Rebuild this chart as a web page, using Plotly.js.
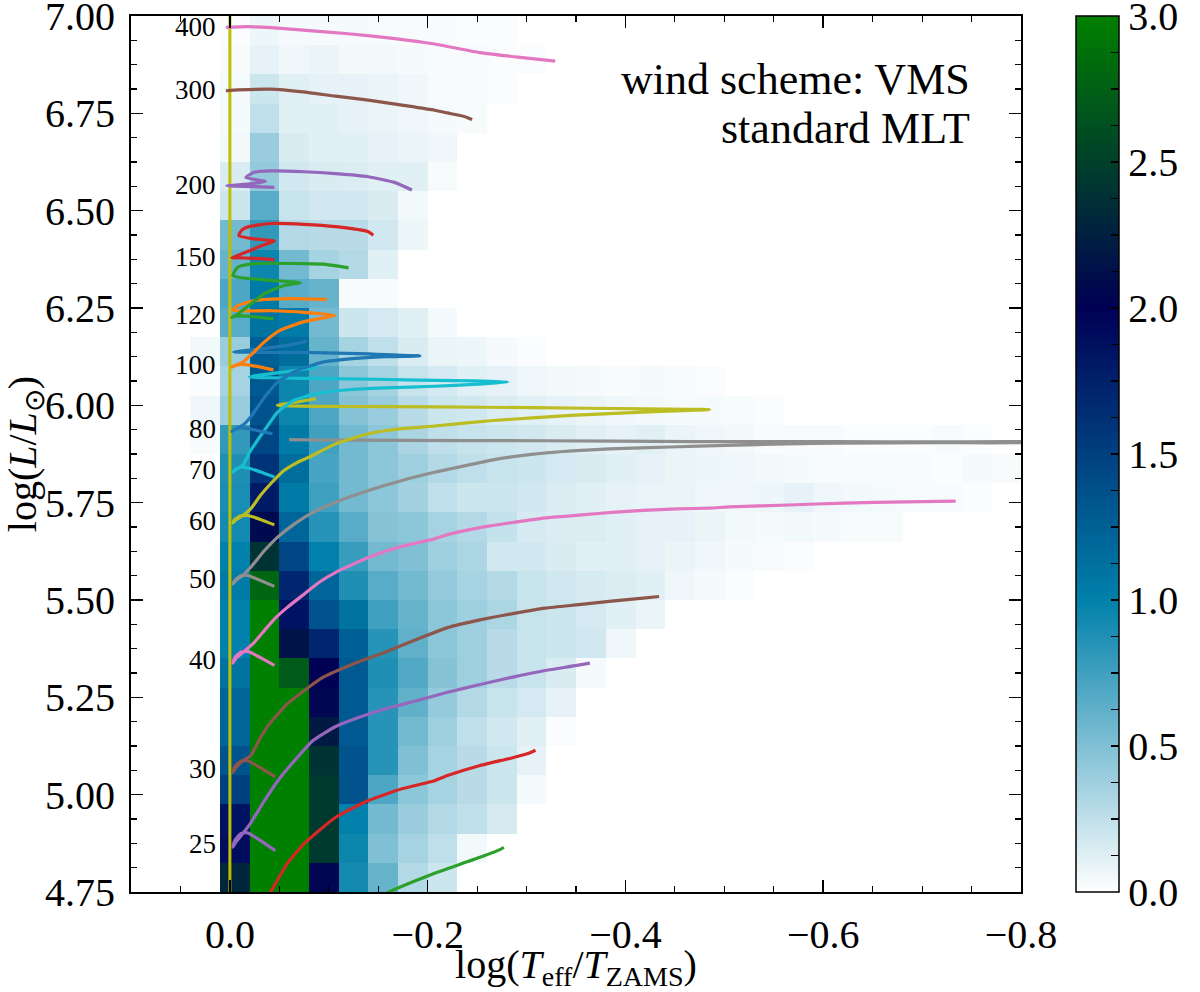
<!DOCTYPE html>
<html>
<head>
<meta charset="utf-8">
<script src="https://cdn.plot.ly/plotly-3.0.1.min.js"></script>
<style>html,body{margin:0;padding:0;background:#fff;}</style>
</head>
<body>
<div id="chart" style="width:1200px;height:992px;"></div>
<script>
// ---------- 2D histogram (log counts) ----------
const xBins = [0.025,-0.005,-0.035,-0.065,-0.095,-0.125,-0.155,-0.185,-0.215,-0.245,-0.275,-0.305,-0.335,-0.365,
  -0.395,-0.425,-0.455,-0.485,-0.515,-0.545,-0.575,-0.605,-0.635,-0.665,-0.695,-0.725,-0.755,-0.785];
const yBins = [6.9625,6.8875,6.8125,6.7375,6.6625,6.5875,6.5125,6.4375,6.3625,6.2875,6.2125,6.1375,6.0625,5.9875,
  5.9125,5.8375,5.7625,5.6875,5.6125,5.5375,5.4625,5.3875,5.3125,5.2375,5.1625,5.0875,5.0125,4.9375,4.8625,4.7875];
const logCounts = [
 [0,0.02,0.07,0.04,0.04,0.04,0.03,0.03,0.03,0.02,0.02],
 [0,0.03,0.10,0.06,0.08,0.05,0.05,0.04,0.03,0.03,0.02,0.02],
 [0,0.04,0.20,0.12,0.10,0.10,0.08,0.06,0.03,0.03,0.02],
 [0,0.04,0.25,0.12,0.12,0.10,0.08,0.06,0.04,0.03],
 [0,0.05,0.40,0.15,0.12,0.12,0.10,0.08,0.06],
 [0,0.15,0.42,0.18,0.15,0.14,0.12,0.12,0.03],
 [0,0.20,0.65,0.22,0.18,0.18,0.15,0.05],
 [0,0.55,0.80,0.30,0.28,0.28,0.18,0.07],
 [0,0.60,0.95,0.55,0.35,0.30,0.12],
 [0,0.70,1.05,0.65,0.60,0.03,0.03],
 [0,0.65,1.10,1.05,0.55,0.20,0.17,0.12,0.04],
 [0.05,0.40,1.25,1.15,0.60,0.35,0.25,0.15,0.08,0.07,0.04,0.02],
 [0.02,0.35,1.30,0.95,0.70,0.45,0.35,0.22,0.17,0.12,0.10,0.06,0.05,0.04,0.03,0.04,0.03,0.02],
 [0.06,0.40,1.35,0.95,0.70,0.48,0.40,0.28,0.20,0.18,0.14,0.12,0.10,0.08,0.06,0.05,0.04,0.04,0.03,0.02],
 [0.03,0.80,1.45,1.05,0.75,0.55,0.45,0.33,0.25,0.22,0.20,0.18,0.15,0.12,0.10,0.12,0.08,0.06,0.05,0.03,0.03,0.03,0.02,0.02,0.02,0.03,0.02,0],
 [0,0.88,1.60,1.15,0.72,0.55,0.45,0.38,0.30,0.25,0.22,0.20,0.17,0.15,0.12,0.10,0.08,0.07,0.06,0.05,0.04,0.03,0.03,0.03,0.03,0.02,0.04,0.03],
 [0,0.90,1.80,1.05,0.75,0.55,0.45,0.36,0.25,0.20,0.20,0.18,0.14,0.12,0.10,0.09,0.08,0.06,0.06,0.07,0.10,0.06,0.05,0.04,0.03,0.03,0.02,0],
 [0,0.92,2.08,1.20,0.85,0.65,0.48,0.45,0.35,0.30,0.23,0.16,0.14,0.14,0.12,0.10,0.10,0.08,0.05,0.04,0.05,0.04,0.03,0.03],
 [0,1.00,2.40,1.45,1.00,0.78,0.55,0.50,0.38,0.32,0.18,0.18,0.15,0.12,0.12,0.10,0.08,0.06,0.04,0.03,0.02],
 [0,1.05,2.80,1.70,1.20,0.88,0.65,0.55,0.42,0.35,0.30,0.22,0.18,0.16,0.14,0.12,0.06,0.04,0.02],
 [0,1.00,3.00,1.85,1.35,1.10,0.75,0.60,0.45,0.38,0.32,0.22,0.20,0.17,0.12,0.08],
 [0,1.00,3.00,2.15,1.70,1.25,0.85,0.62,0.45,0.38,0.28,0.22,0.20,0.18,0.06],
 [0,1.10,3.00,2.70,2.00,1.30,0.88,0.68,0.48,0.38,0.28,0.22,0.15,0.04],
 [0,1.20,3.00,3.00,2.05,1.30,0.85,0.62,0.42,0.30,0.22,0.17,0.10],
 [0,1.20,3.00,3.00,2.20,1.30,0.85,0.55,0.38,0.25,0.18,0.12,0.02],
 [0,1.35,3.00,3.00,2.40,1.35,0.85,0.50,0.35,0.28,0.20,0.10],
 [0,1.50,3.00,3.00,2.45,1.35,0.70,0.45,0.35,0.28,0.20,0.04],
 [0,1.85,3.00,3.00,2.45,1.00,0.55,0.40,0.30,0.25,0.16],
 [0,1.90,3.00,3.00,2.45,0.95,0.50,0.35,0.25,0.05],
 [0,2.30,3.00,3.00,2.05,0.92,0.60,0.30,0.20]
];

// ---------- evolutionary tracks ----------
const lowGreenX = [-0.147,-0.160,-0.187,-0.207,-0.220,-0.253,-0.274,-0.277];
const lowGreenY = [4.733,4.749,4.778,4.798,4.810,4.839,4.860,4.865];
const lowRedX = [-0.033,-0.041,-0.058,-0.075,-0.107,-0.140,-0.174,-0.207,-0.220,-0.253,-0.286,-0.303,-0.309];
const lowRedY = [4.715,4.749,4.823,4.874,4.942,4.985,5.015,5.036,5.049,5.075,5.095,5.107,5.114];
const m25X = [-0.046,-0.031,-0.018,-0.011,-0.005,-0.003,-0.006,-0.013,-0.021,-0.035,-0.051,-0.068,-0.084,-0.107,-0.139,-0.167,-0.187,-0.220,-0.253,-0.286,-0.319,-0.351,-0.364];
const m25Y = [4.856,4.882,4.902,4.900,4.882,4.865,4.878,4.900,4.927,4.985,5.044,5.095,5.139,5.175,5.206,5.227,5.240,5.263,5.283,5.302,5.319,5.332,5.338];
const m30X = [-0.046,-0.031,-0.018,-0.011,-0.005,-0.003,-0.006,-0.013,-0.021,-0.031,-0.041,-0.058,-0.075,-0.094,-0.124,-0.157,-0.190,-0.220,-0.253,-0.286,-0.319,-0.353,-0.386,-0.418,-0.434];
const m30Y = [5.046,5.069,5.087,5.086,5.072,5.058,5.069,5.087,5.100,5.147,5.185,5.233,5.267,5.301,5.335,5.366,5.400,5.429,5.449,5.465,5.479,5.488,5.497,5.505,5.509];
const m40X = [-0.045,-0.031,-0.018,-0.011,-0.005,-0.003,-0.006,-0.013,-0.025,-0.035,-0.045,-0.058,-0.075,-0.090,-0.107,-0.140,-0.174,-0.207,-0.220,-0.253,-0.286,-0.319,-0.353,-0.386,-0.418,-0.452,-0.485,-0.505,-0.565,-0.621,-0.684,-0.734];
const m40Y = [5.332,5.352,5.368,5.366,5.352,5.338,5.350,5.365,5.392,5.422,5.451,5.481,5.515,5.545,5.571,5.609,5.638,5.657,5.668,5.686,5.699,5.711,5.718,5.725,5.730,5.734,5.736,5.739,5.744,5.749,5.752,5.754];
const m50X = [-0.045,-0.031,-0.018,-0.011,-0.005,-0.003,-0.006,-0.013,-0.021,-0.035,-0.048,-0.065,-0.084,-0.107,-0.140,-0.174,-0.207,-0.227,-0.266,-0.305,-0.346,-0.384,-0.445,-0.502,-0.565,-0.614,-0.714,-0.823,-0.823,-0.714,-0.614,-0.465,-0.316,-0.167,-0.087,-0.060];
const m50Y = [5.535,5.550,5.563,5.562,5.550,5.541,5.550,5.563,5.584,5.627,5.661,5.695,5.725,5.751,5.781,5.807,5.828,5.839,5.860,5.874,5.883,5.888,5.893,5.897,5.901,5.903,5.904,5.905,5.906,5.906,5.907,5.907,5.909,5.910,5.911,5.912];
const m60X = [-0.045,-0.031,-0.018,-0.011,-0.005,-0.003,-0.006,-0.013,-0.021,-0.031,-0.041,-0.055,-0.068,-0.081,-0.107,-0.140,-0.174,-0.207,-0.266,-0.345,-0.423,-0.465,-0.485,-0.465,-0.423,-0.305,-0.207,-0.117,-0.048,-0.068,-0.087];
const m60Y = [5.693,5.707,5.717,5.716,5.707,5.698,5.706,5.717,5.734,5.769,5.798,5.833,5.853,5.868,5.901,5.927,5.940,5.947,5.961,5.974,5.983,5.987,5.989,5.990,5.991,5.994,5.996,5.997,6.000,6.009,6.017];
const m70X = [-0.045,-0.031,-0.018,-0.011,-0.005,-0.003,-0.006,-0.013,-0.021,-0.035,-0.048,-0.065,-0.087,-0.120,-0.157,-0.207,-0.247,-0.281,-0.247,-0.207,-0.147,-0.087,-0.020,-0.058,-0.089];
const m70Y = [5.816,5.829,5.839,5.841,5.834,5.828,5.835,5.846,5.884,5.936,5.982,6.013,6.030,6.040,6.045,6.049,6.054,6.060,6.063,6.064,6.067,6.069,6.073,6.087,6.098];
const m80X = [-0.043,-0.031,-0.018,-0.011,-0.005,-0.002,-0.006,-0.013,-0.021,-0.035,-0.048,-0.068,-0.094,-0.124,-0.157,-0.192,-0.157,-0.140,-0.075,-0.004,-0.028,-0.058,-0.078];
const m80Y = [5.927,5.933,5.941,5.942,5.938,5.933,5.940,5.949,5.970,6.021,6.059,6.090,6.111,6.120,6.125,6.127,6.130,6.132,6.136,6.137,6.144,6.154,6.165];
const m100X = [-0.044,-0.031,-0.018,-0.011,-0.005,-0.002,-0.006,-0.013,-0.021,-0.035,-0.051,-0.075,-0.106,-0.075,-0.041,-0.003,-0.008,-0.025,-0.058,-0.098];
const m100Y = [6.091,6.098,6.104,6.105,6.102,6.098,6.103,6.111,6.129,6.163,6.193,6.215,6.231,6.239,6.243,6.244,6.256,6.269,6.274,6.272];
const m120X = [-0.044,-0.031,-0.018,-0.011,-0.005,-0.002,-0.006,-0.015,-0.035,-0.055,-0.071,-0.041,-0.008,-0.003,-0.008,-0.025,-0.075,-0.097,-0.120];
const m120Y = [6.222,6.226,6.229,6.230,6.229,6.226,6.231,6.248,6.287,6.308,6.315,6.321,6.329,6.334,6.355,6.364,6.364,6.362,6.353];
const m150X = [-0.045,-0.031,-0.018,-0.011,-0.005,-0.002,-0.006,-0.018,-0.033,-0.045,-0.023,-0.009,-0.012,-0.019,-0.041,-0.075,-0.107,-0.140,-0.145];
const m150Y = [6.374,6.377,6.378,6.379,6.379,6.379,6.383,6.395,6.411,6.422,6.428,6.436,6.450,6.459,6.467,6.465,6.459,6.446,6.437];
const m200X = [-0.045,-0.023,-0.005,0.003,-0.018,-0.036,-0.016,-0.024,-0.041,-0.075,-0.107,-0.140,-0.167,-0.184];
const m200Y = [6.560,6.562,6.563,6.564,6.568,6.575,6.585,6.598,6.602,6.600,6.595,6.587,6.572,6.553];
const m300X = [0.004,-0.008,-0.041,-0.074,-0.107,-0.140,-0.174,-0.207,-0.220,-0.237,-0.245];
const m300Y = [6.808,6.810,6.812,6.805,6.794,6.784,6.771,6.758,6.751,6.742,6.734];
const m400X = [0.004,-0.018,-0.042,-0.068,-0.117,-0.167,-0.207,-0.253,-0.296,-0.329];
const m400Y = [6.971,6.9725,6.970,6.965,6.955,6.942,6.928,6.906,6.893,6.884];

// mass labels
const massLabels = ['400','300','200','150','120','100','80','70','60','50','40','30','25'];
const massLabelY = [6.9725,6.810,6.566,6.381,6.231,6.103,5.938,5.835,5.704,5.555,5.347,5.067,4.874];

// colour bar ticks
const cbTickVals = [0,0.125,0.25,0.375,0.5,0.625,0.75,0.875,1,1.125,1.25,1.375,1.5,1.625,1.75,1.875,2,2.125,2.25,2.375,2.5,2.625,2.75,2.875,3];
const cbTickText = ['0.0',' ',' ',' ','0.5',' ',' ',' ','1.0',' ',' ',' ','1.5',' ',' ',' ','2.0',' ',' ',' ','2.5',' ',' ',' ','3.0'];

const FONT = 'Liberation Serif, Times New Roman, serif';

const nCols = xBins.length;
const zGrid = logCounts.map(r => {
  const row = [];
  for (let i = 0; i < nCols; i++) { const v = r[i]; row.push(v ? v : null); }
  return row;
});

const traces = [];
traces.push({
  type: 'heatmap', x: xBins, y: yBins, z: zGrid, zmin: 0, zmax: 3,
  colorscale: [[0,'rgb(255,255,255)'],[1/3,'rgb(0,128,170)'],[2/3,'rgb(0,0,85)'],[1,'rgb(0,128,0)']],
  hoverinfo: 'skip', xgap: 0, ygap: 0,
  colorbar: {
    x: 1.0618, xanchor: 'left', xpad: 0, y: 0.5, yanchor: 'middle', len: 1, lenmode: 'fraction', ypad: 0,
    thickness: 43, thicknessmode: 'pixels', outlinewidth: 1.5, outlinecolor: '#000',
    tickmode: 'array', tickvals: cbTickVals, ticktext: cbTickText,
    ticks: 'inside', ticklen: 8, tickwidth: 1.5, tickcolor: '#000',
    ticklabeloverflow: 'allow',
    tickfont: {family: FONT, size: 40, color: '#000'}
  }
});

// ZAMS reference line at x = 0
traces.push({type:'scatter', mode:'lines', x:[0,0], y:[4.75,7.0], line:{color:'#bfbf00', width:3}, hoverinfo:'skip'});

const trackDefs = [
  [lowGreenX, lowGreenY, '#2ca02c'],
  [lowRedX, lowRedY, '#d62728'],
  [m25X, m25Y, '#9467bd'],
  [m30X, m30Y, '#8c564b'],
  [m40X, m40Y, '#e377c2'],
  [m50X, m50Y, '#8f8f8f'],
  [m60X, m60Y, '#bcbd22'],
  [m70X, m70Y, '#17becf'],
  [m80X, m80Y, '#1f77b4'],
  [m100X, m100Y, '#ff7f0e'],
  [m120X, m120Y, '#2ca02c'],
  [m150X, m150Y, '#d62728'],
  [m200X, m200Y, '#9467bd'],
  [m300X, m300Y, '#8c564b'],
  [m400X, m400Y, '#e377c2']
];
trackDefs.forEach(t => traces.push({
  type:'scatter', mode:'lines', x:t[0], y:t[1], line:{color:t[2], width:3.2, shape:'spline', smoothing:0.5}, hoverinfo:'skip'
}));

const annotations = massLabels.map((m, i) => ({
  x: 0.012, y: massLabelY[i], xref:'x', yref:'y', text: m, showarrow:false,
  xanchor:'right', yanchor:'middle', font:{family: FONT, size: 27, color:'#000'}
}));
annotations.push({x:-0.7505, y:6.838, xref:'x', yref:'y', text:'wind scheme: VMS', showarrow:false,
  xanchor:'right', yanchor:'middle', font:{family:FONT, size:44, color:'#000'}});
annotations.push({x:-0.7505, y:6.710, xref:'x', yref:'y', text:'standard MLT', showarrow:false,
  xanchor:'right', yanchor:'middle', font:{family:FONT, size:44, color:'#000'}});

const axisCommon = {
  ticks:'inside', ticklen:12, tickwidth:1.5, tickcolor:'#000',
  showline:true, linewidth:2, linecolor:'#000', mirror:'ticks',
  zeroline:false, showgrid:false, ticklabeloverflow:'allow',
  tickfont:{family:FONT, size:40, color:'#000'}
};

const layout = {
  width:1200, height:992,
  margin:{l:131, r:163, t:16, b:100},
  paper_bgcolor:'#fff', plot_bgcolor:'#fff',
  font:{family:FONT, size:40, color:'#000'},
  showlegend:false,
  xaxis: Object.assign({}, axisCommon, {
    range:[0.1,-0.8], tickmode:'linear', tick0:0, dtick:0.2, tickformat:'.1f',
    ticklabelstandoff: 6,
    minor:{tick0:0, dtick:0.05, ticks:'inside', ticklen:6, tickwidth:1.2, tickcolor:'#000', showgrid:false},
    title:{text:'log(<i>T</i><sub>eff</sub>/<i>T</i><sub>ZAMS</sub>)', font:{family:FONT, size:40}, standoff:7}
  }),
  yaxis: Object.assign({}, axisCommon, {
    range:[4.75,7.0], tickmode:'linear', tick0:4.75, dtick:0.25, tickformat:'.2f',
    ticklabelstandoff: 6,
    minor:{tick0:4.75, dtick:0.0625, ticks:'inside', ticklen:6, tickwidth:1.2, tickcolor:'#000', showgrid:false},
    title:{text:'log(<i>L</i>/<i>L</i><sub>⊙</sub>)', font:{family:FONT, size:40}, standoff:10}
  }),
  annotations: annotations
};

Plotly.newPlot('chart', traces, layout, {displayModeBar:false, staticPlot:true});
</script>
</body>
</html>
